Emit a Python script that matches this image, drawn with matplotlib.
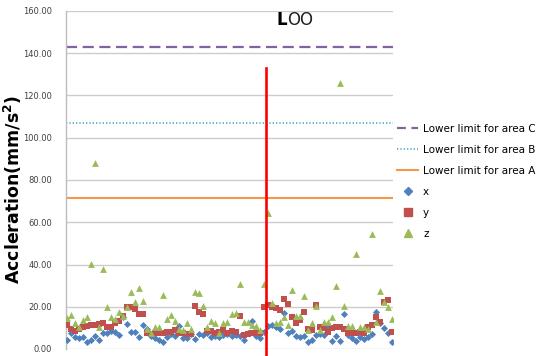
import matplotlib
matplotlib.use("Agg")
import matplotlib.pyplot as plt
from matplotlib.lines import Line2D
import numpy as np

# Acceleration samples (mm/s^2) per measurement point
acc_x = [4.3, 7.4, 5.5, 5.4, 5.8, 3.3, 4.3, 6.1, 4.3, 7.4, 7.4, 8.5, 8.2, 6.6, 15.3, 11.7,
         7.9, 7.9, 5.5, 11.2, 9.3, 6.3, 5.0, 4.3, 3.1, 5.8, 6.9, 6.3, 11.0, 5.4, 5.4, 6.9,
         4.6, 7.1, 6.8, 7.4, 5.8, 6.3, 5.8, 6.6, 6.9, 6.3, 6.6, 6.3, 4.3, 7.5, 13.4, 6.3,
         5.0, 7.9, 11.0, 11.3, 10.2, 9.3, 17.2, 7.4, 8.5, 6.3, 5.8, 6.3, 3.5, 4.3, 6.6, 6.9,
         6.6, 10.6, 3.9, 6.3, 3.9, 16.5, 6.6, 5.0, 3.8, 5.8, 4.7, 5.8, 7.1, 17.6, 12.1, 9.8,
         7.4, 3.5]
acc_y = [11.3, 9.3, 8.7, 9.5, 10.2, 10.9, 11.3, 11.2, 11.8, 12.4, 10.2, 10.6, 12.1, 13.4,
         15.6, 20.0, 20.0, 18.7, 16.5, 16.5, 7.7, 7.1, 7.7, 7.4, 7.7, 8.2, 8.2, 9.0, 7.7, 7.4,
         6.9, 7.1, 20.3, 17.6, 16.5, 8.5, 8.7, 7.7, 8.2, 9.0, 7.4, 8.7, 8.2, 15.7, 6.6, 6.9,
         7.7, 7.4, 7.5, 19.9, 20.8, 20.0, 19.2, 18.5, 23.7, 21.3, 15.3, 12.3, 13.7, 17.7, 9.3,
         9.0, 21.0, 10.6, 9.8, 8.2, 9.8, 10.6, 10.6, 9.5, 7.4, 7.4, 7.4, 8.0, 7.4, 10.6, 11.3,
         15.3, 12.9, 22.4, 23.2, 8.2]
acc_z = [14.5, 16.1, 12.1, 10.6, 13.7, 15.3, 40.2, 88.0, 10.2, 38.1, 19.7, 15.3, 14.0, 17.6,
         15.7, 20.0, 27.1, 22.4, 28.7, 22.8, 9.3, 7.7, 10.2, 10.2, 25.5, 14.0, 16.1, 13.4, 9.3,
         9.0, 12.1, 9.3, 27.1, 26.4, 20.3, 10.5, 13.4, 12.1, 7.7, 12.5, 12.9, 16.8, 17.1, 30.6,
         12.9, 12.9, 11.3, 10.9, 9.0, 30.7, 64.6, 22.0, 12.1, 12.9, 15.3, 11.3, 27.9, 15.7,
         15.7, 25.2, 9.0, 12.1, 20.5, 9.0, 12.9, 12.9, 15.3, 29.8, 125.9, 20.5, 10.9, 10.9,
         45.2, 10.6, 10.6, 9.3, 54.3, 12.9, 27.6, 22.4, 19.7, 14.2]

# Threshold levels
limit_c = 143.0
limit_b = 106.8
limit_a = 71.3
split_index = 49.6
split_top = 133.0

yticks = [0, 20, 40, 60, 80, 100, 120, 140, 160]

fig = plt.figure(figsize=(5.46, 3.56), dpi=100)
ax = fig.add_axes([66 / 546, 1 - 349 / 356, (393 - 66) / 546, (349 - 11) / 356])

n = len(acc_x)
idx = np.arange(n)

ax.set_ylim(0, 160)
ax.set_xlim(-0.3, n - 0.7)
ax.set_yticks(yticks)
ax.set_yticklabels([f"{v:.2f}" for v in yticks], fontsize=6, color="#404040")
ax.set_xticks([])
ax.tick_params(axis="y", length=0, pad=10)
ax.grid(axis="y", color="#cccccc", linewidth=1.0)
ax.set_axisbelow(True)
for s in ["top", "right", "bottom"]:
    ax.spines[s].set_visible(False)
ax.spines["left"].set_color("#bcbcbc")
ax.spines["left"].set_linewidth(1.0)

ax.axhline(limit_c, color="#8064A2", linewidth=1.6, dashes=(5, 2.5))
ax.axhline(limit_b, color="#4BACC6", linewidth=1.2, dashes=(0.8, 1.2))
ax.axhline(limit_a, color="#F79646", linewidth=1.5)

ax.scatter(idx, acc_x, marker="D", s=13, color="#4F81BD", linewidths=0, zorder=3)
ax.scatter(idx, acc_y, marker="s", s=24, color="#C0504D", linewidths=0, zorder=3)
ax.scatter(idx, acc_z, marker="^", s=24, color="#9BBB59", linewidths=0, zorder=3)

ax.plot([split_index, split_index], [-3.4, split_top], color="#FF0000", linewidth=1.9,
        clip_on=False, zorder=4)

fig.text(13 / 546, 1 - 190 / 356, "Accleration(mm/s$^{\\mathbf{2}}$)", fontsize=12.5,
         fontweight="bold", rotation=90, ha="center", va="center")

fig.text(277 / 546, 1 - 20 / 356, "L", fontsize=12, fontweight="bold", va="center", ha="left")
fig.text(287 / 546, 1 - 20 / 356, "OO", fontsize=12, va="center", ha="left",
         color="#202020")

handles = [
    Line2D([], [], color="#8064A2", linewidth=1.6, dashes=(4, 2.5)),
    Line2D([], [], color="#4BACC6", linewidth=1.2, dashes=(0.8, 1.2)),
    Line2D([], [], color="#F79646", linewidth=1.5),
    Line2D([], [], linestyle="none", marker="D", markersize=3.8, color="#4F81BD"),
    Line2D([], [], linestyle="none", marker="s", markersize=5.2, color="#C0504D"),
    Line2D([], [], linestyle="none", marker="^", markersize=5.2, color="#9BBB59"),
]
labels = ["Lower limit for area C", "Lower limit for area B", "Lower limit for area A",
          "x", "y", "z"]
fig.legend(handles, labels, loc="upper left", bbox_to_anchor=(397 / 546, 1 - 124 / 356),
           frameon=False, fontsize=7.5, handlelength=2.05, handletextpad=0.45,
           labelspacing=1.05, borderaxespad=0, borderpad=0)

fig.savefig("out.png", dpi=100)
